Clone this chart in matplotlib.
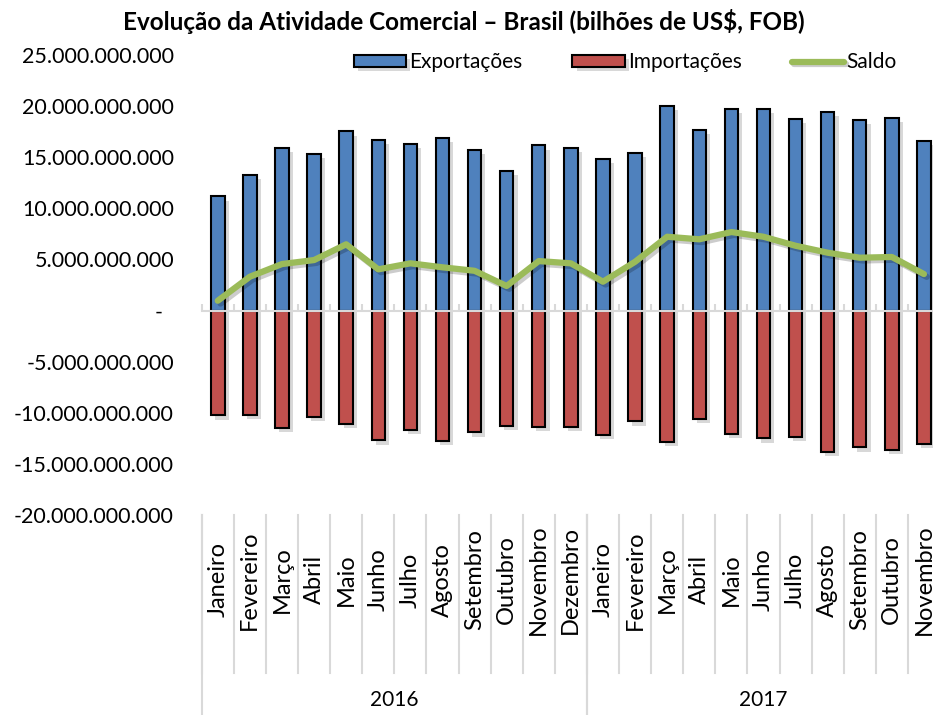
import matplotlib
matplotlib.use('Agg')
import matplotlib.pyplot as plt
import matplotlib.patheffects as pe
import matplotlib.transforms as mtransforms
from matplotlib.ticker import FuncFormatter
import numpy as np

# Dados (bilhões de US$)
meses = ['Janeiro', 'Fevereiro', 'Março', 'Abril', 'Maio', 'Junho', 'Julho',
         'Agosto', 'Setembro', 'Outubro', 'Novembro', 'Dezembro',
         'Janeiro', 'Fevereiro', 'Março', 'Abril', 'Maio', 'Junho', 'Julho',
         'Agosto', 'Setembro', 'Outubro', 'Novembro']
anos = ['2016', '2017']
meses_por_ano = [12, 11]

exportacoes = [11.17, 13.29, 15.93, 15.31, 17.53, 16.68, 16.29, 16.91, 15.73, 13.63, 16.16, 15.90,
               14.85, 15.44, 20.04, 17.63, 19.75, 19.72, 18.74, 19.42, 18.61, 18.84, 16.61]
importacoes = [-10.25, -10.23, -11.47, -10.42, -11.08, -12.70, -11.66, -12.77, -11.92, -11.30, -11.37, -11.40,
               -12.15, -10.84, -12.87, -10.59, -12.05, -12.50, -12.35, -13.82, -13.39, -13.62, -13.06]
saldo = [0.96, 3.31, 4.55, 4.94, 6.48, 4.03, 4.62, 4.23, 3.89, 2.40, 4.84, 4.62,
         2.82, 4.77, 7.22, 6.97, 7.68, 7.22, 6.34, 5.66, 5.17, 5.24, 3.57]

escala = 1e9
x = np.arange(len(meses))

plt.rcParams['font.family'] = 'Lato'
fs = 15

fig = plt.figure(figsize=(9.33, 7.15), dpi=100)
ax = fig.add_axes([0.2162, 0.2797, 0.7913, 0.6434])

sombra = [pe.SimplePatchShadow(offset=(3, -3), shadow_rgbFace='0.5', alpha=0.3), pe.Normal()]
b1 = ax.bar(x, np.array(exportacoes) * escala, width=0.42, color='#4F81BD', edgecolor='black',
            linewidth=1.5, label='Exportações', path_effects=sombra)
b2 = ax.bar(x, np.array(importacoes) * escala, width=0.42, color='#C0504D', edgecolor='black',
            linewidth=1.5, label='Importações', path_effects=sombra)
l1, = ax.plot(x, np.array(saldo) * escala, color='#9BBB59', lw=4.5, solid_capstyle='round',
              solid_joinstyle='round', label='Saldo',
              path_effects=[pe.SimpleLineShadow(offset=(2, -2), alpha=0.2), pe.Normal()])

ax.set_xlim(-0.5, len(meses) - 0.5)
ax.set_ylim(-20e9, 25e9)
ax.set_yticks(np.arange(-20e9, 25e9 + 1, 5e9))


def fmt(v, pos):
    if abs(v) < 1:
        return '-  '
    return f'{v:,.0f}'.replace(',', '.')


ax.yaxis.set_major_formatter(FuncFormatter(fmt))
ax.tick_params(axis='y', length=0, pad=20, labelsize=15.5)

for s in ['top', 'right', 'left']:
    ax.spines[s].set_visible(False)
ax.spines['bottom'].set_position(('data', 0))
ax.spines['bottom'].set_color('#D9D9D9')
ax.spines['bottom'].set_linewidth(1.5)

limites = np.arange(-0.5, len(meses), 1.0)
ax.set_xticks(limites)
ax.tick_params(axis='x', direction='in', length=5, color='#D9D9D9', width=1.5, labelbottom=False)

# eixo de categorias em dois níveis
trans = mtransforms.blended_transform_factory(ax.transData, ax.transAxes)
for i, m in enumerate(meses):
    ax.text(i, -0.141, m, transform=trans, rotation=90, ha='center', va='center', fontsize=17)
for b in limites:
    ax.plot([b, b], [0, -0.343], transform=trans, color='#D9D9D9', lw=1.5, clip_on=False)

inicio = -0.5
for ano, n in zip(anos, meses_por_ano):
    fim = inicio + n
    ax.text((inicio + fim) / 2, -0.402, ano, transform=trans, ha='center', va='center', fontsize=15)
    ax.plot([inicio, inicio], [0, -0.44], transform=trans, color='#D9D9D9', lw=1.5, clip_on=False)
    ax.plot([fim, fim], [0, -0.44], transform=trans, color='#D9D9D9', lw=1.5, clip_on=False)
    inicio = fim

fig.text(0.497, 1 - 22 / 715, 'Evolução da Atividade Comercial – Brasil (bilhões de US$, FOB)',
         ha='center', va='center', fontsize=17.5, fontweight='bold')

fig.legend([b1, b2, l1], ['Exportações', 'Importações', 'Saldo'], loc='center',
           bbox_to_anchor=(0.6704, 0.913), ncol=3, frameon=False, fontsize=fs,
           handlelength=2.5, handleheight=0.5, handletextpad=0.15, columnspacing=2.4)

fig.savefig('out.png', dpi=100)
plt.close()
